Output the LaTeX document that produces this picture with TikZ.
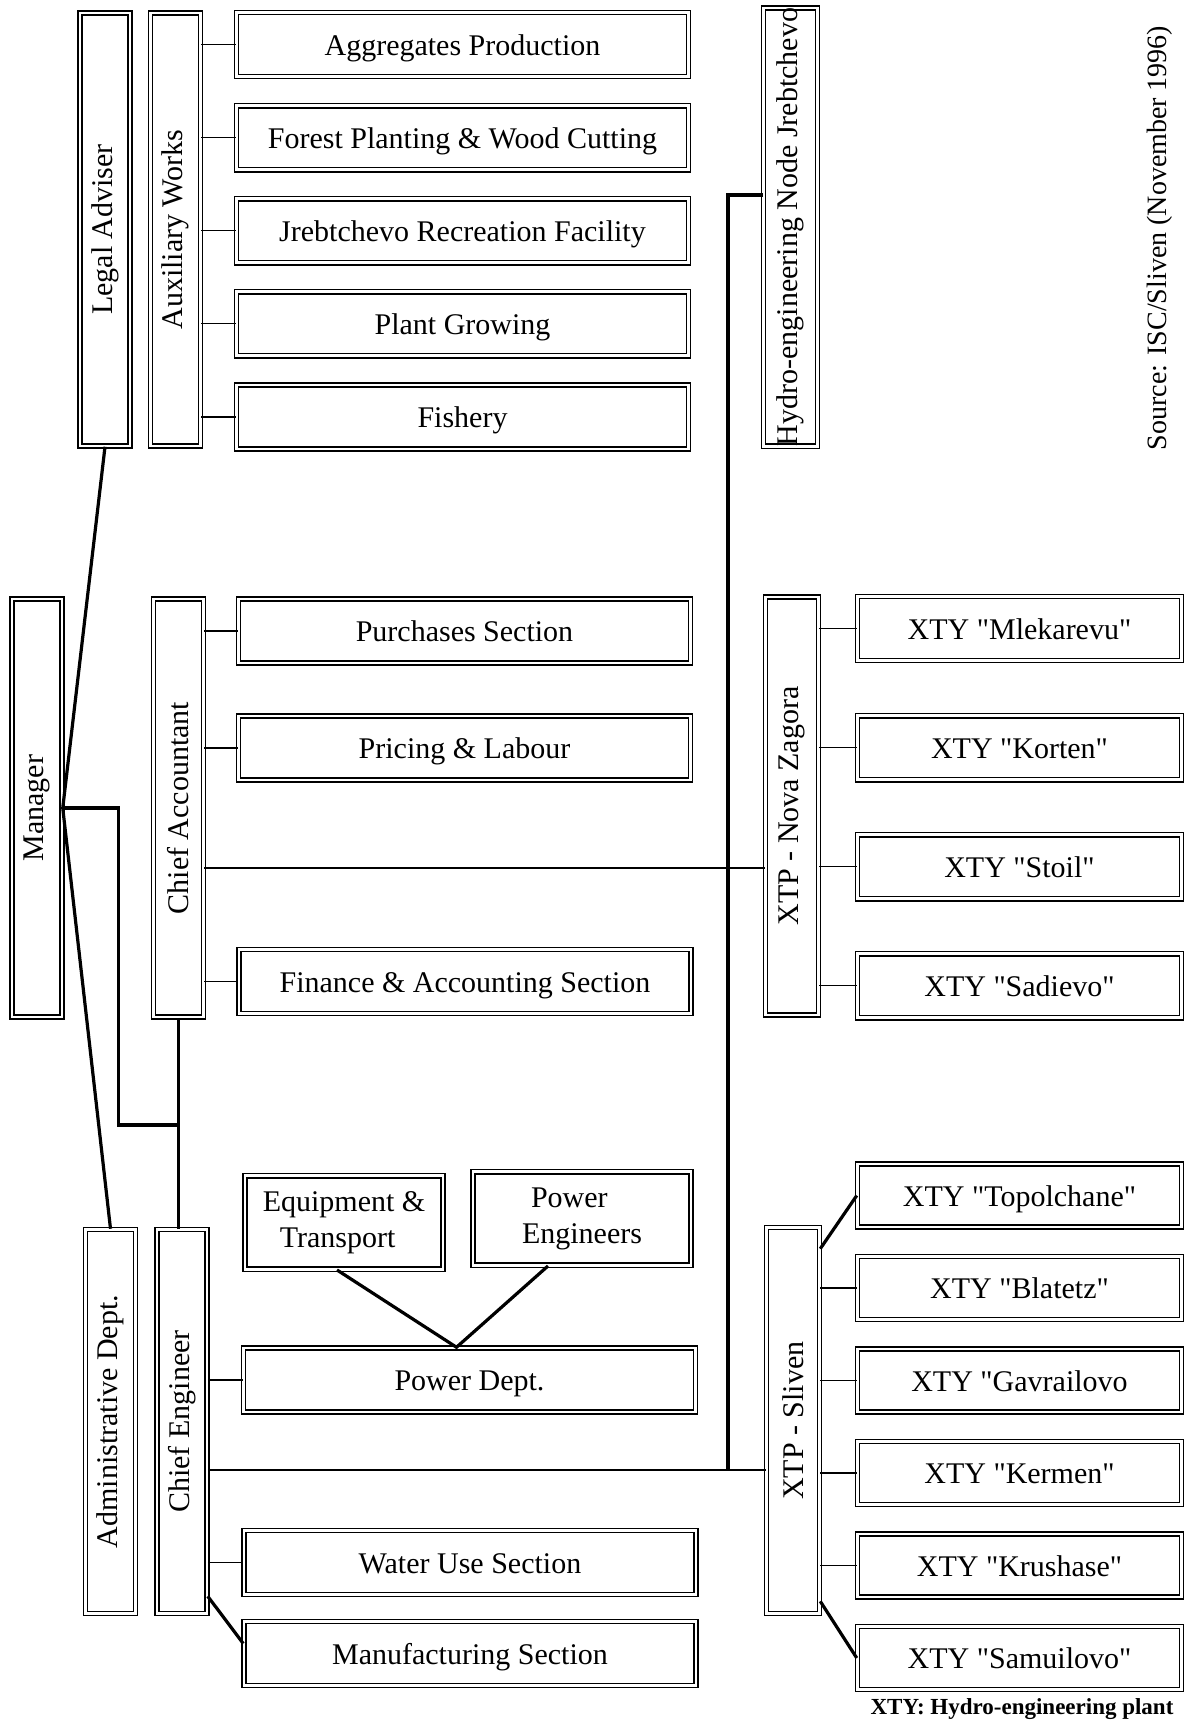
\documentclass[tikz,border=0pt]{standalone}
\usepackage{fontspec}
\setmainfont{Liberation Serif}[Ligatures=TeXOff]
\usepackage{tikz}
\usetikzlibrary{
  calc,
  positioning,
}
\newcommand{\vertlabel}[1]{\rotatebox{90}{#1}}

\begin{document}
\begin{tikzpicture}[
  x = 0.5pt,
  y = -0.5pt,
  box/.style={
    draw,
    double,
    double distance = 1.4pt,
    line width = 0.75pt,
    inner sep = 0pt,
    align = center,
    font = \fontsize{15}{18}\selectfont,
  },
  column box/.style={
    box,
    minimum width = 25pt,
  },
  section box/.style={
    box,
    minimum width = 226pt,
    minimum height = 32pt,
    text height = 14pt,
    text depth = 3.3pt,
  },
  plant box/.style={
    box,
    minimum width = 162pt,
    minimum height = 32pt,
    text height = 14pt,
    text depth = 3.3pt,
  },
  tie/.style={
    line width = 0.65pt,
  },
  trunk/.style={
    line width = 1.6pt,
  },
  ]
  \useasboundingbox (0,0) rectangle (1192,1726);

  % upper block
  \node [column box, minimum height=216.5pt] (node-legal) at (105,229.5) {\vertlabel{Legal Adviser}};
  \node [column box, minimum height=216.5pt] (node-aux) at (175.5,229.5) {\vertlabel{Auxiliary Works}};
  \node [section box] (node-aggregates) at (462.5,44.5) {Aggregates Production};
  \node [section box, below=13.8pt of node-aggregates] (node-forest) {Forest Planting \& Wood Cutting};
  \node [section box, below=13.8pt of node-forest] (node-recreation) {Jrebtchevo Recreation Facility};
  \node [section box, below=13.8pt of node-recreation] (node-growing) {Plant Growing};
  \node [section box, below=13.8pt of node-growing] (node-fishery) {Fishery};
  \node [column box, minimum width=27pt, minimum height=217pt] (node-hydro) at (790.5,227) {\vertlabel{Hydro-engineering Node Jrebtchevo}};
  \node [rotate=90, font=\fontsize{14}{17}\selectfont] (node-source) at (1160,238) {Source: ISC/Sliven (November 1996)};

  % middle block
  \node [column box, minimum height=209pt] (node-manager) at (37,808) {\vertlabel{Manager}};
  \node [column box, minimum height=209pt] (node-accountant) at (178.5,808) {\vertlabel{Chief Accountant}};
  \node [section box] (node-purchases) at (464.5,631) {Purchases Section};
  \node [section box] (node-pricing) at (464.5,748) {Pricing \& Labour};
  \node [section box] (node-finance) at (465,981.5) {Finance \& Accounting Section};
  \node [column box, minimum width=26.5pt, minimum height=209pt] (node-nova) at (792,806) {\vertlabel{XTP - Nova Zagora}};
  \node [plant box] (node-mlekarevu) at (1019.5,628.5) {XTY "Mlekarevu"};
  \node [plant box, below=26.8pt of node-mlekarevu] (node-korten) {XTY "Korten"};
  \node [plant box, below=26.8pt of node-korten] (node-stoil) {XTY "Stoil"};
  \node [plant box, below=26.8pt of node-stoil] (node-sadievo) {XTY "Sadievo"};

  % lower block
  \node [column box, minimum height=192pt] (node-admin) at (110.5,1421.5) {\vertlabel{Administrative Dept.}};
  \node [column box, minimum height=192pt] (node-engineer) at (182,1421.5) {\vertlabel{Chief Engineer}};
  \node [box, minimum width=99pt, minimum height=46.7pt, align=left] (node-equipment) at (344,1222.5) {Equipment \&\\\hspace{8.5pt}Transport};
  \node [box, minimum width=109pt, minimum height=46.7pt, align=left] (node-powereng) at (582,1218.5) {\hspace{4.5pt}Power\\Engineers};
  \node [section box] (node-power) at (469.5,1380) {Power Dept.};
  \node [section box] (node-water) at (470,1562.5) {Water Use Section};
  \node [section box] (node-manufacturing) at (470,1653.5) {Manufacturing Section};
  \node [column box, minimum width=26.5pt, minimum height=193pt] (node-sliven) at (793,1420.5) {\vertlabel{XTP - Sliven}};
  \node [plant box, minimum height=31.5pt] (node-topolchane) at (1019.5,1195.5) {XTY "Topolchane"};
  \node [plant box, minimum height=31.5pt, below=14pt of node-topolchane] (node-blatetz) {XTY "Blatetz"};
  \node [plant box, minimum height=31.5pt, below=14pt of node-blatetz] (node-gavrailovo) {XTY "Gavrailovo};
  \node [plant box, minimum height=31.5pt, below=14pt of node-gavrailovo] (node-kermen) {XTY "Kermen"};
  \node [plant box, minimum height=31.5pt, below=14pt of node-kermen] (node-krushase) {XTY "Krushase"};
  \node [plant box, minimum height=31.5pt, below=14pt of node-krushase] (node-samuilovo) {XTY "Samuilovo"};
  \node [font=\bfseries\fontsize{11.5}{14}\selectfont] (node-legend) at (1022,1709) {XTY: Hydro-engineering plant};

  \coordinate (node-join) at (node-accountant.south |- 0,1125);
  \coordinate (node-novatap) at (node-nova.west |- 0,868);
  \coordinate (node-hydrotap) at (node-hydro.west |- 0,195);
  \coordinate (node-sliventap) at (node-sliven.west |- 0,1470);
  \coordinate (node-bend) at (728,1470);
  \coordinate (node-meet) at ([xshift=-6.5pt]node-power.north);

  \draw [trunk] (node-legal.south) -- (node-manager.east) -- (node-admin.north);
  \draw [trunk] (node-manager.east) -- ++(56,0) |- (node-join);
  \draw [trunk] (node-accountant.south) -- (node-accountant.south |- node-engineer.north);
  \foreach \n in {aggregates,forest,recreation,growing,fishery}
    \draw [tie] (node-\n.west -| node-aux.east) -- (node-\n.west);
  \foreach \n in {purchases,pricing,finance}
    \draw [tie] (node-\n.west -| node-accountant.east) -- (node-\n.west);
  \draw [tie] (node-novatap -| node-accountant.east) -- (node-novatap);
  \draw [trunk] (node-hydrotap) -| (node-bend);
  \draw [tie] (node-sliventap -| node-engineer.east) -- (node-sliventap);
  \foreach \n in {mlekarevu,korten,stoil,sadievo}
    \draw [tie] (node-\n.west -| node-nova.east) -- (node-\n.west);
  \foreach \n in {blatetz,gavrailovo,kermen,krushase}
    \draw [tie] (node-\n.west -| node-sliven.east) -- (node-\n.west);
  \draw [trunk] ([yshift=-11pt]node-sliven.north east) -- (node-topolchane.west);
  \draw [trunk] ([yshift=6.5pt]node-sliven.south east) -- (node-samuilovo.west);
  \draw [trunk] ([xshift=-3.5pt]node-equipment.south) -- (node-meet) -- ([xshift=-17pt]node-powereng.south);
  \foreach \n in {power,water}
    \draw [tie] (node-\n.west -| node-engineer.east) -- (node-\n.west);
  \draw [trunk] ([yshift=9pt]node-engineer.south east) -- ([yshift=5pt]node-manufacturing.west);
\end{tikzpicture}
\end{document}
